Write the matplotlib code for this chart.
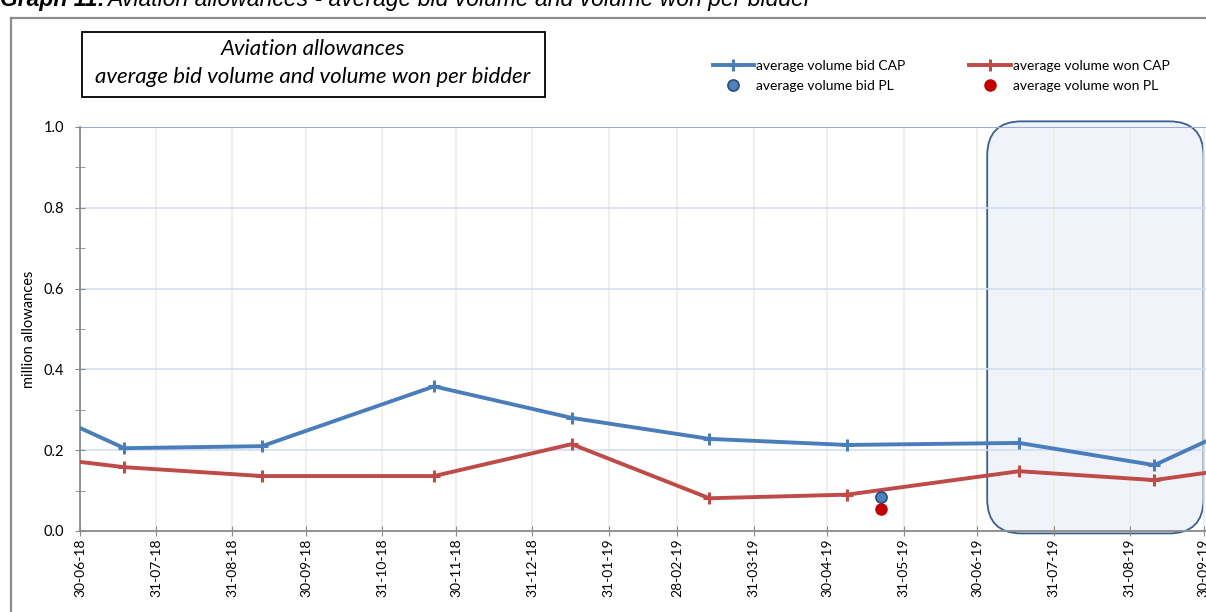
import numpy as np
import pandas as pd
import matplotlib
matplotlib.use("Agg")
from matplotlib import pyplot as plt
import matplotlib.dates as mdates
from matplotlib.patches import Rectangle, FancyBboxPatch
from matplotlib.lines import Line2D

plt.rcParams["font.family"] = ["Lato", "DejaVu Sans"]

# auction dates (first/last entry = value where the line leaves the plot)
cap_dates = ["2018-06-30", "2018-07-18", "2018-09-12", "2018-11-21", "2019-01-16",
             "2019-03-13", "2019-05-08", "2019-07-17", "2019-09-10", "2019-10-01"]
bid_cap = [0.255, 0.205, 0.210, 0.358, 0.280, 0.228, 0.213, 0.218, 0.163, 0.222]
won_cap = [0.171, 0.158, 0.136, 0.136, 0.215, 0.081, 0.090, 0.148, 0.126, 0.144]

pl_dates = ["2019-05-22"]
bid_pl = [0.085]
won_pl = [0.055]

# highlighted period
box_start = "2019-07-04"
box_end = "2019-09-30"

x_start = "2018-06-30"
x_end = "2019-10-01"

blue = "#4a7ebb"
red = "#be4b48"

fig = plt.figure(figsize=(12.06, 6.12), dpi=100)
W, H = 1206, 612
ax = fig.add_axes([80 / W, (H - 531) / H, 1 - 80 / W, (531 - 127) / H])

cd = pd.to_datetime(cap_dates)
pd_ = pd.to_datetime(pl_dates)

h1, = ax.plot(cd, bid_cap, color=blue, lw=2.8, marker="+", ms=8, mew=2.2,
              markevery=slice(1, -1), zorder=5, label="average volume bid CAP")
h2, = ax.plot(cd, won_cap, color=red, lw=2.8, marker="+", ms=8, mew=2.2,
              markevery=slice(1, -1), zorder=5, label="average volume won CAP")
h3, = ax.plot(pd_, bid_pl, ls="none", marker="o", ms=8, mfc="#4f81bd", mec="#2a4d7a",
              mew=1.2, zorder=6, label="average volume bid PL")
h4, = ax.plot(pd_, won_pl, ls="none", marker="o", ms=8, mfc="#c00000", mec="#c00000",
              zorder=6, label="average volume won PL")

ax.set_xlim(pd.Timestamp(x_start), pd.Timestamp(x_end))
ax.set_ylim(0, 1.0)

# axes look
for s in ["top", "right"]:
    ax.spines[s].set_visible(False)
for s in ["left", "bottom"]:
    ax.spines[s].set_color("#8a8a8a")
    ax.spines[s].set_linewidth(1.3)

month_ends = pd.date_range("2018-06-30", "2019-09-30", freq="ME")
ax.set_xticks(month_ends)
ax.xaxis.set_major_formatter(mdates.DateFormatter("%d-%m-%y"))
ax.tick_params(axis="x", direction="inout", length=7, color="#8a8a8a",
               labelrotation=90, labelsize=10, pad=2)
ax.set_yticks(np.arange(0, 1.01, 0.2))
ax.set_yticks(np.arange(0.1, 1.0, 0.2), minor=True)
ax.yaxis.set_major_formatter(matplotlib.ticker.FormatStrFormatter("%.1f"))
ax.tick_params(axis="y", which="both", direction="inout", length=7,
               color="#8a8a8a", labelsize=10.5, pad=8)

ax.set_axisbelow(True)
ax.grid(axis="x", color="#eeebe0", lw=1.1)
ax.grid(axis="y", color="#d3def0", lw=1.2)
ax.axhline(1.0, color="#8eaadb", lw=1.3, zorder=1)

ax.set_ylabel("million allowances", fontsize=10.5)
ax.yaxis.set_label_coords(-44 / (W - 80), 0.5)

# rounded highlight box
x0 = mdates.date2num(pd.Timestamp(box_start))
x1 = mdates.date2num(pd.Timestamp(box_end))
p0 = ax.transData.transform((x0, 0))
p1 = ax.transData.transform((x0 + 1, 1))
px_day = p1[0] - p0[0]
px_unit = p1[1] - p0[1]
r_days = 14
box = FancyBboxPatch((x0, -0.006), x1 - x0, 1.02,
                     boxstyle=f"round,pad=0,rounding_size={r_days}",
                     mutation_aspect=px_day / px_unit,
                     fc="#f0f4fa", ec="#3a5f8f", lw=1.3, zorder=0.3,
                     clip_on=False, transform=ax.transData)
ax.add_patch(box)

# legend (row 1: CAP lines, row 2: PL dots)
leg = ax.legend([h1, h3, h2, h4], [h.get_label() for h in (h1, h3, h2, h4)],
                ncol=2, loc="upper left", bbox_to_anchor=(620 / (W - 80), 1 + 80 / 404),
                frameon=False, fontsize=10, handlelength=3.0, handletextpad=0.15,
                columnspacing=4.6, labelspacing=0.6)

# title box
fig.add_artist(Rectangle((82 / W, 1 - 97 / H), (545 - 82) / W, (97 - 32) / H,
                         transform=fig.transFigure, fill=False, ec="black", lw=1.3))
fig.text(313 / W, 1 - 49 / H, "Aviation allowances", ha="center", va="center",
         fontsize=16, style="italic")
fig.text(313 / W, 1 - 77 / H, "average bid volume and volume won per bidder",
         ha="center", va="center", fontsize=16, style="italic")

# outer frame
fig.add_artist(Line2D([11 / W, 1], [1 - 18 / H, 1 - 18 / H], transform=fig.transFigure,
                      color="#8c8c8c", lw=1.6))
fig.add_artist(Line2D([11 / W, 11 / W], [0, 1 - 18 / H], transform=fig.transFigure,
                      color="#8c8c8c", lw=1.6))

# caption above the frame (cut by the top edge, as in the source)
t1 = fig.text(0, 1 - 6 / H, "Graph 11:", fontsize=16.5, weight="bold", style="italic",
              family="Liberation Sans", va="baseline")
fig.canvas.draw()
bb = t1.get_window_extent()
fig.text(bb.x1 / W + 0.002, 1 - 6 / H,
         "Aviation allowances - average bid volume and volume won per bidder",
         fontsize=16.5, style="italic", family="Liberation Sans", va="baseline")

fig.savefig("out.png", dpi=100)
